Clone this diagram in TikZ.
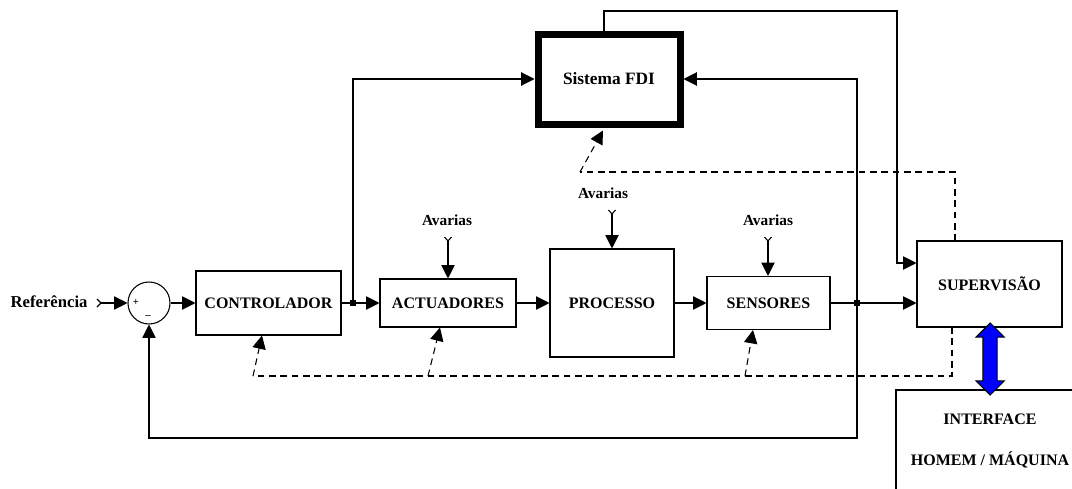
\documentclass[tikz,border=0pt]{standalone}
\usepackage{fontspec}
\setmainfont{Liberation Serif}
\usetikzlibrary{arrows.meta,calc,shapes.arrows}
\begin{document}
\begin{tikzpicture}[x=0.75pt,y=-0.75pt,
  every path/.style={line width=0.8pt},
  blk/.style={draw, rectangle, inner sep=0pt, font=\bfseries\fontsize{12}{14}\selectfont},
  lbl/.style={inner sep=0pt, font=\bfseries\fontsize{11.5}{13}\selectfont},
  arr/.style={-{Triangle[length=10pt,width=10pt]}},
  dsh/.style={dashed, dash pattern=on 5pt off 3.5pt},
  jn/.style={fill, rectangle, minimum size=4.5pt, inner sep=0pt}]
\useasboundingbox (0,0) rectangle (1072,489);

% blocks
\node[lbl, anchor=east, font=\bfseries\fontsize{12.5}{14}\selectfont] (ref) at (88,302) {Referência};
\coordinate (in) at (101,303);
\node[draw, circle, minimum size=31.5pt, inner sep=0pt] (sum) at (149,303) {};
\node[inner sep=0pt, font=\bfseries\fontsize{8}{9}\selectfont] (plus) at (136,302) {+};
\node[inner sep=0pt, font=\bfseries\fontsize{8}{9}\selectfont] (minus) at (148,317) {\textendash};
\node[blk, minimum width=108.75pt, minimum height=48pt] (ctrl) at (268.5,303) {CONTROLADOR};
\node[blk, minimum width=102pt, minimum height=36pt] (act) at (448,303) {ACTUADORES};
\node[blk, minimum width=93pt, minimum height=81pt] (proc) at (612,303) {PROCESSO};
\node[blk, minimum width=92.25pt, minimum height=39.75pt] (sens) at (768.5,303) {SENSORES};
\node[blk, minimum width=108.75pt, minimum height=64.5pt] (sup) at (989.5,284) {SUPERVISÃO};
\node[blk, line width=5.25pt, minimum width=106.5pt, minimum height=67.5pt, font=\bfseries\fontsize{13}{15}\selectfont] (fdi) at (609,79) {Sistema FDI};
\node[lbl, font=\bfseries\fontsize{12}{14}\selectfont, align=center] (hmi) at (990,441) {INTERFACE\\[17pt]HOMEM / MÁQUINA};

% avarias
\node[lbl] (av1) at (447,220) {Avarias};
\node[lbl] (av2) at (603,193) {Avarias};
\node[lbl] (av3) at (768,220) {Avarias};
\coordinate (y1) at (448,241);
\coordinate (y2) at (612,214);
\coordinate (y3) at (768,241);
\foreach \c in {y1,y2,y3}{\draw (\c) ++(-3.5,-4) -- (\c) -- ++(3.5,-4);}
\draw[arr] (y1) -- (y1 |- act.north);
\draw[arr] (y2) -- (y2 |- proc.north);
\draw[arr] (y3) -- (y3 |- sens.north);

% main path
\draw (in) ++(-4,-4) -- (in) -- ++(-4,4);
\draw[arr] (in) -- (sum.west);
\draw[arr] (sum.east) -- (ctrl.west);
\draw[arr] (ctrl.east) -- (act.west);
\draw[arr] (act.east) -- (proc.west);
\draw[arr] (proc.east) -- (sens.west);
\draw[arr] (sens.east) -- (sens.east -| sup.west);
\node[jn] (j1) at (353,303) {};
\node[jn] (j2) at (857,303) {};

% to FDI
\draw[arr] (j1.center) -- (353,79) -- (fdi.west);
\draw[arr] (j2.center) -- (857,79) -- (fdi.east);
\draw[arr] (j2.center) -- (857,438) -- (149,438) -- (sum.south);
\draw[arr] (604,30.5) -- (604,11) -- (897,11) -- (897,263) -- (sup.west |- 0,263);

% dashed supervision lines
\draw[dsh] (955,241) -- (955,172) -- (580,172);
\draw[dsh, arr] (580,172) -- ($(fdi.south)+(-6,3)$);
\draw[dsh] (952,327) -- (952,376) -- (253,376);
\draw[dsh, arr] (253,376) -- (262,327 |- ctrl.south);
\draw[dsh, arr] (428,376) -- (440,327 |- act.south);
\draw[dsh, arr] (745,376) -- (753,327 |- sens.south);

% interface
\draw (896,489) -- (896,390) -- (1072,390);
\node[draw, fill=blue, double arrow, rotate=90, minimum height=54pt, minimum width=20pt,
  inner sep=4.9pt, double arrow head extend=5.25pt, line width=0.8pt] (link) at (990,359) {};
\end{tikzpicture}
\end{document}
